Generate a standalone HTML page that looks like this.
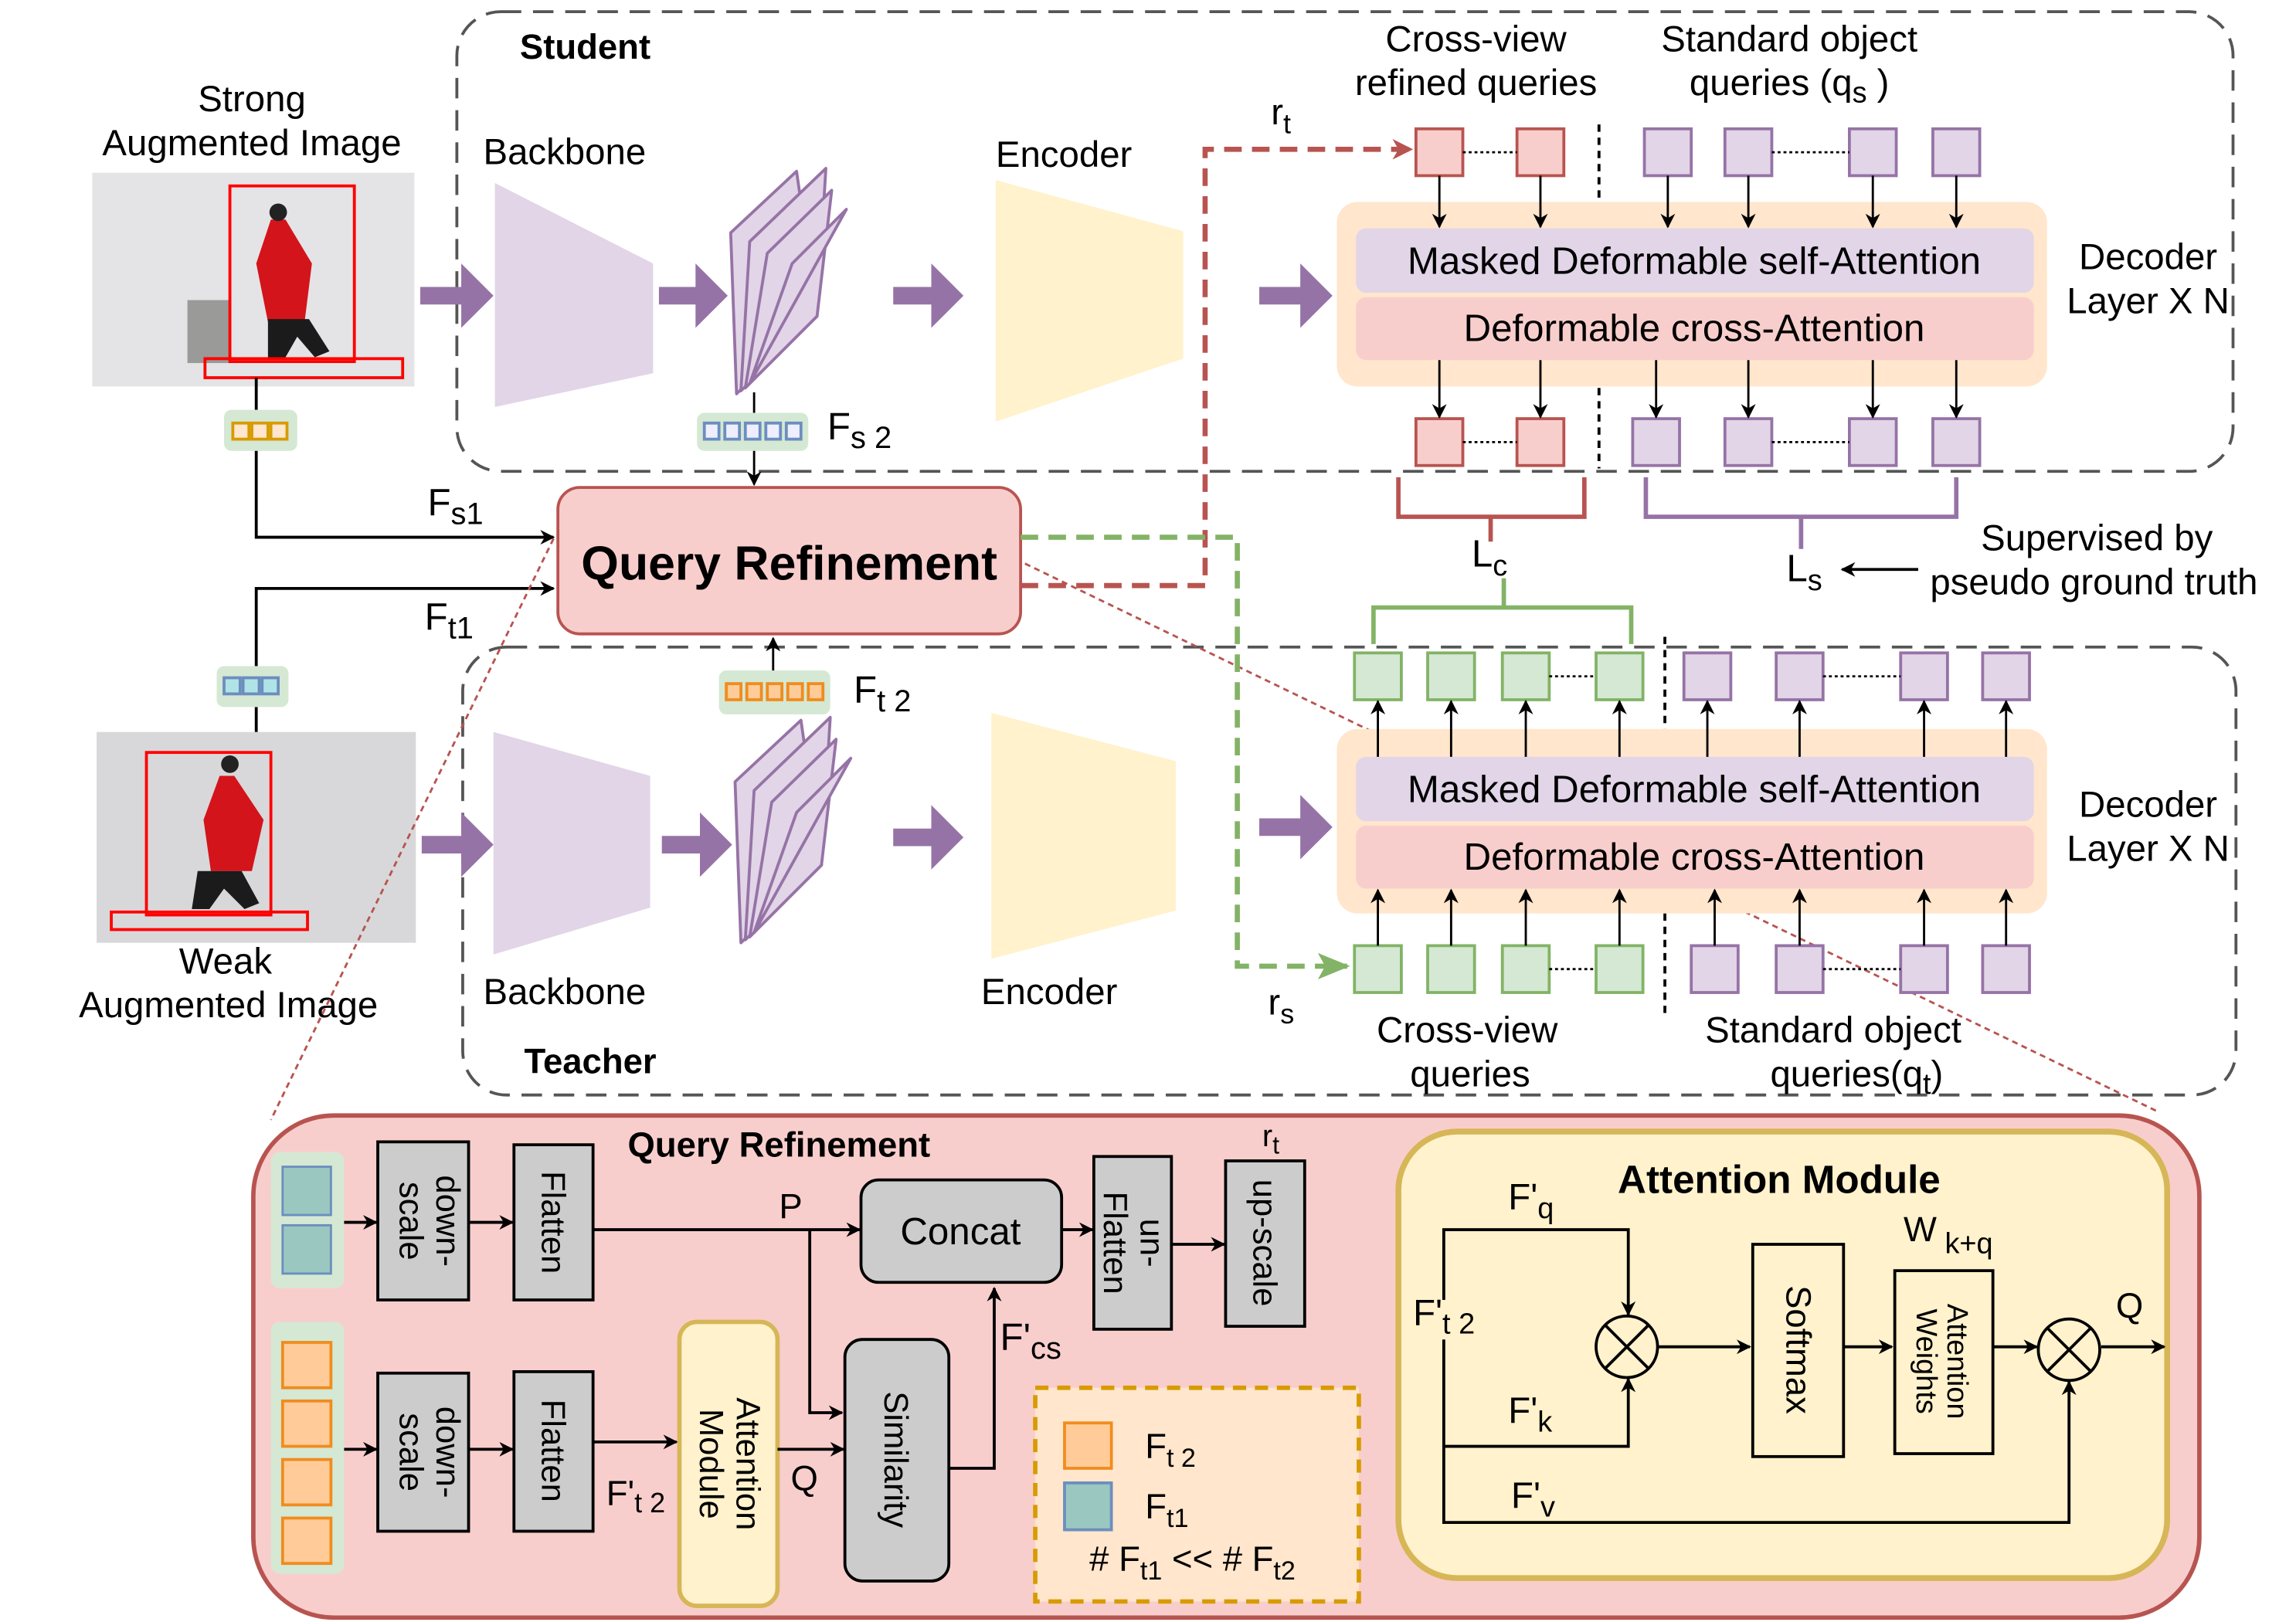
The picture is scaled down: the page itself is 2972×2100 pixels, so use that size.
<!DOCTYPE html>
<html><head><meta charset="utf-8"><style>
html,body{margin:0;padding:0;background:#fff;}
svg{display:block;}
text{font-family:"Liberation Sans",sans-serif;fill:#000;}
</style></head><body>
<svg width="2972" height="2100" viewBox="0 0 1568 1108" preserveAspectRatio="none" xmlns="http://www.w3.org/2000/svg">
<defs>
<marker id="ah" markerWidth="10" markerHeight="10" refX="9" refY="5" orient="auto" markerUnits="userSpaceOnUse"><path d="M0,0 L10,5 L0,10 L3,5 z" fill="#000"/></marker>
<marker id="ahr" markerWidth="14" markerHeight="14" refX="12" refY="7" orient="auto" markerUnits="userSpaceOnUse"><path d="M0,0 L14,7 L0,14 L4,7 z" fill="#b85450"/></marker>
<marker id="ahg" markerWidth="22" markerHeight="18" refX="20" refY="9" orient="auto" markerUnits="userSpaceOnUse"><path d="M0,0 L22,9 L0,18 L5,9 z" fill="#82b366"/></marker>
</defs>

<rect x="312" y="8" width="1213" height="314" rx="30" fill="none" stroke="#555" stroke-width="2" stroke-dasharray="14,8"/>
<rect x="316" y="442" width="1211" height="306" rx="30" fill="none" stroke="#555" stroke-width="2" stroke-dasharray="14,8"/>
<text x="355" y="40" font-size="24" font-weight="bold">Student</text>
<text x="358" y="733" font-size="24" font-weight="bold">Teacher</text>

<text x="172" y="76" font-size="25" text-anchor="middle">Strong</text>
<text x="172" y="106" font-size="25" text-anchor="middle">Augmented Image</text>
<rect x="63" y="118" width="220" height="146" fill="#e4e4e6"/>
<rect x="128" y="205" width="30" height="43" fill="#9a9a98"/>
<path d="M185,150 l10,0 l18,30 l-5,40 l-25,0 l-8,-40 z" fill="#d3141a"/>
<path d="M183,218 l28,0 l14,22 l-10,4 l-12,-14 l-8,14 l-12,0 z" fill="#1b1b1b"/>
<circle cx="190" cy="145" r="6" fill="#222"/>
<rect x="157" y="127" width="85" height="120" fill="none" stroke="#f00" stroke-width="2"/>
<rect x="140" y="245" width="135" height="13" fill="none" stroke="#f00" stroke-width="2"/>

<text x="154" y="665" font-size="25" text-anchor="middle">Weak</text>
<text x="156" y="695" font-size="25" text-anchor="middle">Augmented Image</text>
<rect x="66" y="500" width="218" height="144" fill="#d8d8da"/>
<path d="M150,530 l10,0 l20,30 l-8,35 l-28,0 l-5,-35 z" fill="#d3141a"/>
<path d="M135,595 l30,0 l12,22 l-10,4 l-14,-14 l-10,14 l-12,0 z" fill="#1b1b1b"/>
<circle cx="157" cy="522" r="6" fill="#222"/>
<rect x="100" y="514" width="85" height="111" fill="none" stroke="#f00" stroke-width="2"/>
<rect x="76" y="623" width="134" height="12" fill="none" stroke="#f00" stroke-width="2"/>

<line x1="175" y1="258" x2="175" y2="280" stroke="#000" stroke-width="2"/>
<rect x="153" y="280" width="50" height="28" rx="5" fill="#d5e8d4"/>
<rect x="159" y="289" width="11" height="11" fill="#ffe6cc" stroke="#d79b00" stroke-width="2"/>
<rect x="172" y="289" width="11" height="11" fill="#ffe6cc" stroke="#d79b00" stroke-width="2"/>
<rect x="185" y="289" width="11" height="11" fill="#ffe6cc" stroke="#d79b00" stroke-width="2"/>
<polyline points="175,308 175,367 378,367" fill="none" stroke="#000" stroke-width="2" marker-end="url(#ah)"/>
<text x="292" y="352" font-size="26">F<tspan font-size="21" dy="6">s1</tspan></text>

<rect x="148" y="455" width="49" height="28" rx="5" fill="#d5e8d4"/>
<rect x="153" y="463" width="11" height="11" fill="#b0e3e6" stroke="#6c8ebf" stroke-width="2"/>
<rect x="166" y="463" width="11" height="11" fill="#b0e3e6" stroke="#6c8ebf" stroke-width="2"/>
<rect x="179" y="463" width="11" height="11" fill="#b0e3e6" stroke="#6c8ebf" stroke-width="2"/>
<line x1="175" y1="483" x2="175" y2="500" stroke="#000" stroke-width="2"/>
<polyline points="175,455 175,402 378,402" fill="none" stroke="#000" stroke-width="2" marker-end="url(#ah)"/>
<text x="290" y="430" font-size="26">F<tspan font-size="21" dy="6">t1</tspan></text>

<line x1="378" y1="368" x2="185" y2="765" stroke="#b85450" stroke-width="1.5" stroke-dasharray="4,3"/>
<line x1="700" y1="385" x2="1475" y2="760" stroke="#b85450" stroke-width="1.5" stroke-dasharray="4,3"/>

<rect x="381" y="333" width="316" height="100" rx="15" fill="#f8cecc" stroke="#b85450" stroke-width="2"/>
<text x="539" y="396" font-size="33" font-weight="bold" text-anchor="middle">Query Refinement</text>

<text x="330" y="112" font-size="25">Backbone</text>
<polygon points="338,125 446,180 446,255 338,278" fill="#e1d5e7"/>
<g fill="#9673a6">
<polygon points="287,196 315,196 315,180 337,202 315,224 315,208 287,208"/>
<polygon points="450,196 475,196 475,180 497,202 475,224 475,208 450,208"/>
<polygon points="610,196 636,196 636,180 658,202 636,224 636,208 610,208"/>
<polygon points="860,196 888,196 888,180 910,202 888,224 888,208 860,208"/>
<polygon points="288,571 315,571 315,555 337,577 315,599 315,583 288,583"/>
<polygon points="452,571 478,571 478,555 500,577 478,599 478,583 452,583"/>
<polygon points="610,566 636,566 636,550 658,572 636,594 636,578 610,578"/>
<polygon points="860,559 888,559 888,543 910,565 888,587 888,571 860,571"/>
</g>
<g fill="#e1d5e7" stroke="#9673a6" stroke-width="2" stroke-linejoin="round">
<polygon points="499,159 544,117 558,216 503,269"/>
<polygon points="512,165 564,115 558,216 506,267"/>
<polygon points="524,173 568,130 558,216 509,265"/>
<polygon points="541,180 578,143 512,262"/>
</g>
<text x="680" y="114" font-size="25">Encoder</text>
<polygon points="680,123 808,158 808,245 680,288" fill="#fff2cc"/>
<line x1="515" y1="268" x2="515" y2="282" stroke="#000" stroke-width="1.5"/>
<rect x="476" y="282" width="76" height="26" rx="5" fill="#d5e8d4"/>
<g fill="#eef" stroke="#6c8ebf" stroke-width="2">
<rect x="481" y="289" width="10" height="11"/><rect x="495" y="289" width="10" height="11"/><rect x="509" y="289" width="10" height="11"/><rect x="523" y="289" width="10" height="11"/><rect x="537" y="289" width="10" height="11"/>
</g>
<line x1="515" y1="308" x2="515" y2="331" stroke="#000" stroke-width="1.5" marker-end="url(#ah)"/>
<text x="565" y="300" font-size="26">F<tspan font-size="21" dy="6">s 2</tspan></text>

<polygon points="337,500 444,530 444,620 337,652" fill="#e1d5e7"/>
<g fill="#e1d5e7" stroke="#9673a6" stroke-width="2" stroke-linejoin="round" transform="translate(3,375)">
<polygon points="499,159 544,117 558,216 503,269"/>
<polygon points="512,165 564,115 558,216 506,267"/>
<polygon points="524,173 568,130 558,216 509,265"/>
<polygon points="541,180 578,143 512,262"/>
</g>
<polygon points="677,487 803,520 803,622 677,655" fill="#fff2cc"/>
<text x="330" y="686" font-size="25">Backbone</text>
<text x="670" y="686" font-size="25">Encoder</text>
<rect x="491" y="458" width="76" height="30" rx="5" fill="#d5e8d4"/>
<g fill="#ffcc99" stroke="#f08c1e" stroke-width="2">
<rect x="496" y="467" width="10" height="11"/><rect x="510" y="467" width="10" height="11"/><rect x="524" y="467" width="10" height="11"/><rect x="538" y="467" width="10" height="11"/><rect x="552" y="467" width="10" height="11"/>
</g>
<line x1="528" y1="458" x2="528" y2="436" stroke="#000" stroke-width="1.5" marker-end="url(#ah)"/>
<text x="583" y="480" font-size="26">F<tspan font-size="21" dy="6">t 2</tspan></text>

<polyline points="697,400 823,400 823,102 963,102" fill="none" stroke="#b85450" stroke-width="3.5" stroke-dasharray="12,7" marker-end="url(#ahr)"/>
<text x="868" y="85" font-size="25">r<tspan font-size="19" dy="6">t</tspan></text>
<polyline points="697,367 845,367 845,660 920,660" fill="none" stroke="#82b366" stroke-width="3.5" stroke-dasharray="12,7" marker-end="url(#ahg)"/>
<text x="866" y="693" font-size="25">r<tspan font-size="19" dy="6">s</tspan></text>

<text x="1008" y="35" font-size="25" text-anchor="middle">Cross-view</text>
<text x="1008" y="65" font-size="25" text-anchor="middle">refined queries</text>
<text x="1222" y="35" font-size="25" text-anchor="middle">Standard object</text>
<text x="1222" y="65" font-size="25" text-anchor="middle">queries (q<tspan font-size="20" dy="5">s</tspan><tspan dy="-5"> )</tspan></text>
<line x1="1092" y1="85" x2="1092" y2="320" stroke="#000" stroke-width="2" stroke-dasharray="5,4"/>
<rect x="913" y="138" width="485" height="126" rx="14" fill="#ffe6cc"/>
<rect x="926" y="156" width="463" height="44" rx="7" fill="#e1d5e7"/>
<rect x="926" y="203" width="463" height="43" rx="7" fill="#f8cecc"/>
<text x="1157" y="187" font-size="26" text-anchor="middle">Masked Deformable self-Attention</text>
<text x="1157" y="233" font-size="26" text-anchor="middle">Deformable cross-Attention</text>
<text x="1467" y="184" font-size="25" text-anchor="middle">Decoder</text>
<text x="1467" y="214" font-size="25" text-anchor="middle">Layer X N</text>
<g stroke-width="2">
<rect x="967" y="88" width="32" height="32" fill="#f8cecc" stroke="#b85450"/>
<rect x="1036" y="88" width="32" height="32" fill="#f8cecc" stroke="#b85450"/>
<rect x="1123" y="88" width="32" height="32" fill="#e1d5e7" stroke="#9673a6"/>
<rect x="1178" y="88" width="32" height="32" fill="#e1d5e7" stroke="#9673a6"/>
<rect x="1263" y="88" width="32" height="32" fill="#e1d5e7" stroke="#9673a6"/>
<rect x="1320" y="88" width="32" height="32" fill="#e1d5e7" stroke="#9673a6"/>
<rect x="967" y="286" width="32" height="32" fill="#f8cecc" stroke="#b85450"/>
<rect x="1036" y="286" width="32" height="32" fill="#f8cecc" stroke="#b85450"/>
<rect x="1115" y="286" width="32" height="32" fill="#e1d5e7" stroke="#9673a6"/>
<rect x="1178" y="286" width="32" height="32" fill="#e1d5e7" stroke="#9673a6"/>
<rect x="1263" y="286" width="32" height="32" fill="#e1d5e7" stroke="#9673a6"/>
<rect x="1320" y="286" width="32" height="32" fill="#e1d5e7" stroke="#9673a6"/>
</g>
<g stroke="#000" stroke-width="1.5" stroke-dasharray="2,2">
<line x1="999" y1="104" x2="1036" y2="104"/><line x1="1210" y1="104" x2="1263" y2="104"/>
<line x1="999" y1="302" x2="1036" y2="302"/><line x1="1210" y1="302" x2="1263" y2="302"/>
</g>
<g stroke="#000" stroke-width="1.5" marker-end="url(#ah)">
<line x1="983" y1="120" x2="983" y2="155"/><line x1="1052" y1="120" x2="1052" y2="155"/>
<line x1="1139" y1="120" x2="1139" y2="155"/><line x1="1194" y1="120" x2="1194" y2="155"/>
<line x1="1279" y1="120" x2="1279" y2="155"/><line x1="1336" y1="120" x2="1336" y2="155"/>
<line x1="983" y1="246" x2="983" y2="285"/><line x1="1052" y1="246" x2="1052" y2="285"/>
<line x1="1131" y1="246" x2="1131" y2="285"/><line x1="1194" y1="246" x2="1194" y2="285"/>
<line x1="1279" y1="246" x2="1279" y2="285"/><line x1="1336" y1="246" x2="1336" y2="285"/>
</g>

<polyline points="955,326 955,353 1082,353 1082,326" fill="none" stroke="#b85450" stroke-width="3"/>
<line x1="1018" y1="353" x2="1018" y2="370" stroke="#b85450" stroke-width="3"/>
<text x="1005" y="387" font-size="26">L<tspan font-size="20" dy="6">c</tspan></text>
<polyline points="1124,326 1124,353 1336,353 1336,326" fill="none" stroke="#9673a6" stroke-width="3"/>
<line x1="1230" y1="353" x2="1230" y2="375" stroke="#9673a6" stroke-width="3"/>
<text x="1220" y="397" font-size="26">L<tspan font-size="20" dy="6">s</tspan></text>
<line x1="1310" y1="389" x2="1258" y2="389" stroke="#000" stroke-width="2" marker-end="url(#ah)"/>
<text x="1432" y="376" font-size="25" text-anchor="middle">Supervised by</text>
<text x="1430" y="406" font-size="25" text-anchor="middle">pseudo ground truth</text>
<polyline points="938,440 938,415 1114,415 1114,440" fill="none" stroke="#82b366" stroke-width="3"/>
<line x1="1027" y1="395" x2="1027" y2="415" stroke="#82b366" stroke-width="3"/>

<line x1="1137" y1="435" x2="1137" y2="695" stroke="#000" stroke-width="2" stroke-dasharray="5,4"/>
<rect x="913" y="498" width="485" height="126" rx="14" fill="#ffe6cc"/>
<rect x="926" y="517" width="463" height="44" rx="7" fill="#e1d5e7"/>
<rect x="926" y="564" width="463" height="43" rx="7" fill="#f8cecc"/>
<text x="1157" y="548" font-size="26" text-anchor="middle">Masked Deformable self-Attention</text>
<text x="1157" y="594" font-size="26" text-anchor="middle">Deformable cross-Attention</text>
<text x="1467" y="558" font-size="25" text-anchor="middle">Decoder</text>
<text x="1467" y="588" font-size="25" text-anchor="middle">Layer X N</text>
<g stroke-width="2">
<rect x="925" y="446" width="32" height="32" fill="#d5e8d4" stroke="#82b366"/>
<rect x="975" y="446" width="32" height="32" fill="#d5e8d4" stroke="#82b366"/>
<rect x="1026" y="446" width="32" height="32" fill="#d5e8d4" stroke="#82b366"/>
<rect x="1090" y="446" width="32" height="32" fill="#d5e8d4" stroke="#82b366"/>
<rect x="1150" y="446" width="32" height="32" fill="#e1d5e7" stroke="#9673a6"/>
<rect x="1213" y="446" width="32" height="32" fill="#e1d5e7" stroke="#9673a6"/>
<rect x="1298" y="446" width="32" height="32" fill="#e1d5e7" stroke="#9673a6"/>
<rect x="1354" y="446" width="32" height="32" fill="#e1d5e7" stroke="#9673a6"/>
<rect x="925" y="646" width="32" height="32" fill="#d5e8d4" stroke="#82b366"/>
<rect x="975" y="646" width="32" height="32" fill="#d5e8d4" stroke="#82b366"/>
<rect x="1026" y="646" width="32" height="32" fill="#d5e8d4" stroke="#82b366"/>
<rect x="1090" y="646" width="32" height="32" fill="#d5e8d4" stroke="#82b366"/>
<rect x="1155" y="646" width="32" height="32" fill="#e1d5e7" stroke="#9673a6"/>
<rect x="1213" y="646" width="32" height="32" fill="#e1d5e7" stroke="#9673a6"/>
<rect x="1298" y="646" width="32" height="32" fill="#e1d5e7" stroke="#9673a6"/>
<rect x="1354" y="646" width="32" height="32" fill="#e1d5e7" stroke="#9673a6"/>
</g>
<g stroke="#000" stroke-width="1.5" stroke-dasharray="2,2">
<line x1="1058" y1="462" x2="1090" y2="462"/><line x1="1245" y1="462" x2="1298" y2="462"/>
<line x1="1058" y1="662" x2="1090" y2="662"/><line x1="1245" y1="662" x2="1298" y2="662"/>
</g>
<g stroke="#000" stroke-width="1.5" marker-end="url(#ah)">
<line x1="941" y1="517" x2="941" y2="479"/><line x1="991" y1="517" x2="991" y2="479"/>
<line x1="1042" y1="517" x2="1042" y2="479"/><line x1="1106" y1="517" x2="1106" y2="479"/>
<line x1="1166" y1="517" x2="1166" y2="479"/><line x1="1229" y1="517" x2="1229" y2="479"/>
<line x1="1314" y1="517" x2="1314" y2="479"/><line x1="1370" y1="517" x2="1370" y2="479"/>
<line x1="941" y1="646" x2="941" y2="608"/><line x1="991" y1="646" x2="991" y2="608"/>
<line x1="1042" y1="646" x2="1042" y2="608"/><line x1="1106" y1="646" x2="1106" y2="608"/>
<line x1="1171" y1="646" x2="1171" y2="608"/><line x1="1229" y1="646" x2="1229" y2="608"/>
<line x1="1314" y1="646" x2="1314" y2="608"/><line x1="1370" y1="646" x2="1370" y2="608"/>
</g>
<text x="1002" y="712" font-size="25" text-anchor="middle">Cross-view</text>
<text x="1004" y="742" font-size="25" text-anchor="middle">queries</text>
<text x="1252" y="712" font-size="25" text-anchor="middle">Standard object</text>
<text x="1268" y="742" font-size="25" text-anchor="middle">queries(q<tspan font-size="20" dy="5">t</tspan><tspan dy="-5">)</tspan></text>

<rect x="173" y="762" width="1329" height="343" rx="55" fill="#f8cecc" stroke="#b85450" stroke-width="3"/>
<text x="532" y="790" font-size="24" font-weight="bold" text-anchor="middle">Query Refinement</text>
<rect x="185" y="787" width="50" height="93" rx="6" fill="#d5e8d4"/>
<rect x="193" y="797" width="33" height="33" fill="#9ac7bf" stroke="#6c8ebf" stroke-width="1.5"/>
<rect x="193" y="837" width="33" height="33" fill="#9ac7bf" stroke="#6c8ebf" stroke-width="1.5"/>
<rect x="185" y="903" width="50" height="172" rx="6" fill="#d5e8d4"/>
<g fill="#ffcc99" stroke="#f08c1e" stroke-width="2">
<rect x="193" y="917" width="33" height="31"/><rect x="193" y="957" width="33" height="31"/>
<rect x="193" y="997" width="33" height="31"/><rect x="193" y="1037" width="33" height="31"/>
</g>
<g fill="#cccccc" stroke="#000" stroke-width="2">
<rect x="258" y="780" width="62" height="108"/><rect x="258" y="938" width="62" height="108"/>
<rect x="351" y="782" width="54" height="106"/><rect x="351" y="937" width="54" height="109"/>
<rect x="747" y="790" width="53" height="118"/><rect x="837" y="793" width="54" height="113"/>
<rect x="588" y="806" width="137" height="70" rx="12"/>
<rect x="577" y="915" width="71" height="165" rx="12"/>
</g>
<rect x="464" y="903" width="67" height="194" rx="12" fill="#fff2cc" stroke="#d6b656" stroke-width="3"/>
<g font-size="23">
<text transform="translate(292,834) rotate(90)" text-anchor="middle" y="-6">down-</text>
<text transform="translate(292,834) rotate(90)" text-anchor="middle" y="19">scale</text>
<text transform="translate(292,992) rotate(90)" text-anchor="middle" y="-6">down-</text>
<text transform="translate(292,992) rotate(90)" text-anchor="middle" y="19">scale</text>
<text transform="translate(378,835) rotate(90)" text-anchor="middle" y="8">Flatten</text>
<text transform="translate(378,991) rotate(90)" text-anchor="middle" y="8">Flatten</text>
<text transform="translate(773,849) rotate(90)" text-anchor="middle" y="-6">un-</text>
<text transform="translate(773,849) rotate(90)" text-anchor="middle" y="19">Flatten</text>
<text transform="translate(864,849) rotate(90)" text-anchor="middle" y="8">up-scale</text>
<text transform="translate(612,997) rotate(90)" text-anchor="middle" y="8">Similarity</text>
<text transform="translate(497,1000) rotate(90)" text-anchor="middle" y="-6">Attention</text>
<text transform="translate(497,1000) rotate(90)" text-anchor="middle" y="19">Module</text>
</g>
<text x="656" y="850" font-size="26" text-anchor="middle">Concat</text>
<g stroke="#000" stroke-width="2" fill="none" marker-end="url(#ah)">
<line x1="235" y1="835" x2="257" y2="835"/><line x1="235" y1="990" x2="257" y2="990"/>
<line x1="320" y1="835" x2="350" y2="835"/><line x1="320" y1="990" x2="350" y2="990"/>
<line x1="405" y1="840" x2="587" y2="840"/>
<polyline points="553,840 553,965 575,965"/>
<line x1="405" y1="985" x2="462" y2="985"/>
<line x1="531" y1="990" x2="576" y2="990"/>
<polyline points="648,1003 679,1003 679,880"/>
<line x1="725" y1="840" x2="746" y2="840"/>
<line x1="800" y1="850" x2="836" y2="850"/>
</g>
<text x="532" y="832" font-size="24">P</text>
<text x="540" y="1018" font-size="24">Q</text>
<text x="414" y="1028" font-size="24">F'<tspan font-size="19" dy="5">t 2</tspan></text>
<text x="862" y="783" font-size="21">r<tspan font-size="17" dy="5">t</tspan></text>
<text x="683" y="922" font-size="26">F'<tspan font-size="21" dy="6">cs</tspan></text>
<rect x="707" y="948" width="221" height="146" fill="#ffe6cc" stroke="#d79b00" stroke-width="3" stroke-dasharray="9,6"/>
<rect x="727" y="972" width="32" height="31" fill="#ffcc99" stroke="#f08c1e" stroke-width="2"/>
<rect x="727" y="1013" width="32" height="32" fill="#9ac7bf" stroke="#6c8ebf" stroke-width="2"/>
<text x="782" y="996" font-size="24">F<tspan font-size="18" dy="6">t 2</tspan></text>
<text x="782" y="1037" font-size="24">F<tspan font-size="18" dy="6">t1</tspan></text>
<text x="744" y="1073" font-size="24"># F<tspan font-size="18" dy="6">t1</tspan><tspan dy="-6">  &lt;&lt; # F</tspan><tspan font-size="18" dy="6">t2</tspan></text>

<rect x="955" y="773" width="525" height="305" rx="40" fill="#fff2cc" stroke="#d6b656" stroke-width="4"/>
<text x="1215" y="815" font-size="27" font-weight="bold" text-anchor="middle">Attention Module</text>
<g stroke="#000" stroke-width="2" fill="none">
<polyline points="986,888 986,840 1112,840 1112,898" marker-end="url(#ah)"/>
<polyline points="986,915 986,1040 1413,1040 1413,944" marker-end="url(#ah)"/>
<polyline points="986,988 1112,988 1112,942" marker-end="url(#ah)"/>
<line x1="1133" y1="920" x2="1195" y2="920" marker-end="url(#ah)"/>
<line x1="1259" y1="920" x2="1292" y2="920" marker-end="url(#ah)"/>
<line x1="1361" y1="920" x2="1391" y2="920" marker-end="url(#ah)"/>
<line x1="1435" y1="920" x2="1478" y2="920" marker-end="url(#ah)"/>
<circle cx="1111" cy="920" r="21" fill="#fff2cc"/>
<line x1="1096" y1="905" x2="1126" y2="935"/><line x1="1126" y1="905" x2="1096" y2="935"/>
<circle cx="1413" cy="922" r="21" fill="#fff2cc"/>
<line x1="1398" y1="907" x2="1428" y2="937"/><line x1="1428" y1="907" x2="1398" y2="937"/>
<rect x="1197" y="850" width="62" height="145"/>
<rect x="1294" y="868" width="67" height="125"/>
</g>
<text transform="translate(1228,922) rotate(90)" text-anchor="middle" y="8" font-size="24">Softmax</text>
<text transform="translate(1327,930) rotate(90)" text-anchor="middle" y="-3" font-size="20">Attention</text>
<text transform="translate(1327,930) rotate(90)" text-anchor="middle" y="18" font-size="20">Weights</text>
<text x="965" y="905" font-size="25">F'<tspan dy="6" font-size="20">t 2</tspan></text>
<text x="1030" y="826" font-size="25">F'<tspan dy="6" font-size="20">q</tspan></text>
<text x="1030" y="972" font-size="25">F'<tspan dy="6" font-size="20">k</tspan></text>
<text x="1032" y="1030" font-size="25">F'<tspan dy="6" font-size="20">v</tspan></text>
<text x="1300" y="848" font-size="24">W<tspan dy="8" font-size="20"> k+q</tspan></text>
<text x="1445" y="900" font-size="24">Q</text>
</svg>
</body></html>
